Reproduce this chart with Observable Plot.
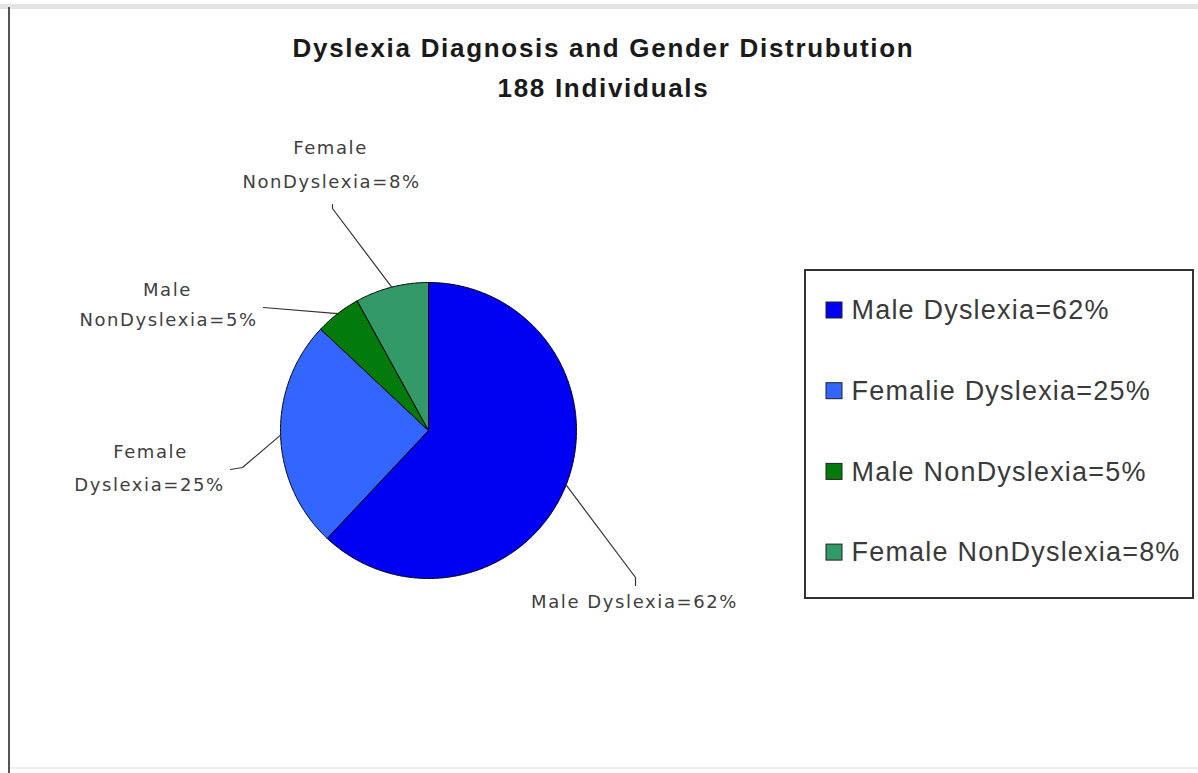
<!DOCTYPE html>
<html><head><meta charset="utf-8">
<script src="https://cdn.jsdelivr.net/npm/d3@7"></script>
<script src="https://cdn.jsdelivr.net/npm/@observablehq/plot@0.6"></script>
<style>
body{margin:0;background:#fff;}
#wrap{position:relative;width:1198px;height:773px;overflow:hidden;background:#fff;}
.top{position:absolute;left:0;top:4px;width:1198px;height:5px;background:#e4e4e4;}
.left{position:absolute;left:8px;top:7px;width:2px;height:766px;background:#555;}
.bottom{position:absolute;left:10px;top:767px;width:1188px;height:2px;background:#eeeeee;}
#wrap svg{position:absolute;left:0;top:0;}
</style></head><body><div id="wrap"><div class="top"></div><div class="left"></div><div class="bottom"></div></div>
<script>
// ---- data ----
const categories = ["Male Dyslexia", "Female Dyslexia", "Male NonDyslexia", "Female NonDyslexia"];
const percents = [62, 25, 5, 8];
const pieLabels = [["Male Dyslexia=62%"], ["Female", "Dyslexia=25%"], ["Male", "NonDyslexia=5%"], ["Female", "NonDyslexia=8%"]];
const legendLabels = ["Male Dyslexia=62%", "Femalie Dyslexia=25%", "Male NonDyslexia=5%", "Female NonDyslexia=8%"];
const titleLines = ["Dyslexia Diagnosis and Gender Distrubution", "188 Individuals"];

// ---- styles / layout ----
const colors = ["#0000F2", "#3366FF", "#037A0C", "#339966"];
const W = 1198, H = 773;
const pieCenter = [428, 430], pieR = 148;
const leaderPaths = [[[635, 577], [635, 585]], [[242, 467], [230, 469]], [[263, 307]], [[332, 208], [332, 204]]];
const labelAnchors = [[[634, 602]], [[150, 452], [149, 485]], [[167, 290], [168, 320]], [[330, 148], [331, 182]]];
const titleAnchors = [[603, 48], [603, 88]];
const legendBox = {x1: 805, x2: 1193, y1: 270, y2: 598};
const legendRow0 = 310, legendStep = 80.7, swatchX = 826, swatchSize = 16, legendTextX = 851;
const letterSpacingBySize = {"27": "1.2px", "18": "1.6px", "26": "1.7px"};

// ---- derived geometry ----
const [cx, cy] = pieCenter;
const arcs = d3.pie().sort(null).value(d => d)(percents);
const slicePts = arcs.flatMap((a, i) => {
  const pts = [{i, x: cx, y: cy}];
  const n = Math.max(2, Math.ceil((a.endAngle - a.startAngle) / (Math.PI / 360)));
  for (let k = 0; k <= n; k++) {
    const t = a.startAngle + (a.endAngle - a.startAngle) * k / n;
    pts.push({i, x: cx + pieR * Math.sin(t), y: cy - pieR * Math.cos(t)});
  }
  pts.push({i, x: cx, y: cy});
  return pts.map(p => ({...p, cat: categories[i]}));
});
const leaderPts = arcs.flatMap((a, i) => {
  const m = (a.startAngle + a.endAngle) / 2;
  const start = {i, x: cx + pieR * Math.sin(m), y: cy - pieR * Math.cos(m)};
  return [start, ...leaderPaths[i].map(([x, y]) => ({i, x, y}))];
});
const pieLabelData = pieLabels.flatMap((lines, i) => lines.map((t, j) => ({t, x: labelAnchors[i][j][0], y: labelAnchors[i][j][1]})));
const titleData = titleLines.map((t, j) => ({t, x: titleAnchors[j][0], y: titleAnchors[j][1]}));
const legendData = legendLabels.map((t, i) => ({t, cat: categories[i], y: legendRow0 + i * legendStep}));

const chart = Plot.plot({
  width: W, height: H,
  margin: 0,
  x: {domain: [0, W], range: [0, W], axis: null},
  y: {domain: [0, H], range: [0, H], axis: null},
  color: {domain: categories, range: colors},
  style: {background: "transparent", overflow: "visible"},
  marks: [
    Plot.rect([legendBox], {x1: "x1", x2: "x2", y1: "y1", y2: "y2", fill: "white", stroke: "#333", strokeWidth: 2}),
    Plot.rect(legendData, {x1: swatchX, x2: swatchX + swatchSize, y1: d => d.y - swatchSize / 2, y2: d => d.y + swatchSize / 2, fill: "cat", stroke: "#222", strokeWidth: 1}),
    Plot.text(legendData, {x: legendTextX, y: "y", text: "t", textAnchor: "start", fontSize: 27, fontFamily: "Liberation Sans, Arial, sans-serif", fill: "#3a3a3a"}),
    Plot.line(slicePts, {x: "x", y: "y", z: "i", fill: "cat", stroke: "#000", strokeWidth: 1, strokeLinejoin: "round", curve: "linear"}),
    Plot.line(leaderPts, {x: "x", y: "y", z: "i", stroke: "#333", strokeWidth: 1.2, curve: "linear"}),
    Plot.text(pieLabelData, {x: "x", y: "y", text: "t", textAnchor: "middle", fontSize: 18, fontFamily: "DejaVu Sans, Verdana, sans-serif", fill: "#404040"}),
    Plot.text(titleData, {x: "x", y: "y", text: "t", textAnchor: "middle", fontSize: 26, fontWeight: "bold", fontFamily: "Liberation Sans, Arial, sans-serif", fill: "#1a1a1a"})
  ]
});
chart.querySelectorAll("text").forEach(t => {
  let el = t, fs = null;
  while (el && el !== chart && !fs) { fs = el.getAttribute && el.getAttribute("font-size"); el = el.parentNode; }
  const ls = letterSpacingBySize[String(parseFloat(fs))];
  if (ls) { t.setAttribute("letter-spacing", ls); t.style.letterSpacing = ls; }
});
document.getElementById("wrap").appendChild(chart);
</script>
</body></html>
